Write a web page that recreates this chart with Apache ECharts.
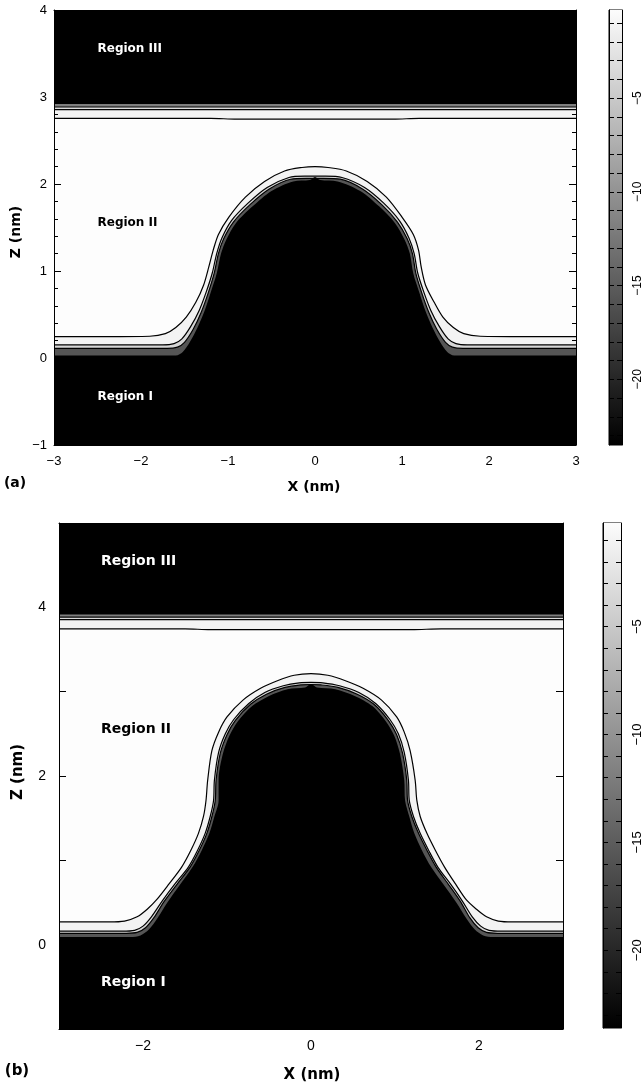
<!DOCTYPE html>
<html>
<head>
<meta charset="utf-8">
<script src="https://cdn.jsdelivr.net/npm/echarts@6/dist/echarts.min.js"></script>
<style>
html, body { margin: 0; padding: 0; background: #fff; }
#main { width: 644px; height: 1091px; }
</style>
</head>
<body>
<div id="main"></div>
<script>
// ---- panel (a): contours of the field, [x nm, z nm]
var outerA = [[-3,0.245],[-2.4,0.245],[-1.9,0.25],[-1.72,0.28],[-1.6,0.35],[-1.48,0.47],[-1.37,0.64],[-1.28,0.84],[-1.22,1.05],[-1.17,1.24],[-1.11,1.42],[-0.99,1.62],[-0.8,1.85],[-0.58,2.03],[-0.35,2.15],[-0.15,2.19],[0,2.2],[0.15,2.19],[0.36,2.15],[0.6,2.03],[0.82,1.85],[1.0,1.62],[1.13,1.42],[1.19,1.24],[1.22,1.05],[1.27,0.84],[1.37,0.64],[1.47,0.47],[1.59,0.35],[1.71,0.28],[1.9,0.25],[2.4,0.245],[3,0.245]];
var midA = [[-3,0.15],[-1.75,0.15],[-1.62,0.165],[-1.53,0.22],[-1.43,0.36],[-1.33,0.55],[-1.25,0.76],[-1.18,0.98],[-1.13,1.2],[-1.07,1.38],[-0.96,1.58],[-0.77,1.78],[-0.55,1.96],[-0.3,2.075],[-0.12,2.09],[0,2.09],[0.12,2.09],[0.31,2.075],[0.57,1.96],[0.79,1.78],[0.97,1.58],[1.08,1.38],[1.14,1.2],[1.18,0.98],[1.25,0.76],[1.33,0.55],[1.43,0.36],[1.53,0.22],[1.62,0.165],[1.75,0.15],[3,0.15]];
var innerA = [[-3,0.11],[-1.7,0.11],[-1.58,0.125],[-1.5,0.18],[-1.4,0.33],[-1.31,0.52],[-1.23,0.74],[-1.16,0.97],[-1.11,1.2],[-1.05,1.37],[-0.94,1.56],[-0.75,1.76],[-0.53,1.94],[-0.28,2.055],[-0.1,2.065],[0,2.065],[0.1,2.065],[0.29,2.055],[0.55,1.94],[0.77,1.76],[0.95,1.56],[1.06,1.37],[1.12,1.2],[1.16,0.97],[1.23,0.74],[1.31,0.52],[1.4,0.33],[1.5,0.18],[1.58,0.125],[1.7,0.11],[3,0.11]];
var edgeA = [[-3,0.03],[-1.6,0.03],[-1.52,0.07],[-1.44,0.18],[-1.35,0.35],[-1.27,0.54],[-1.2,0.75],[-1.13,0.97],[-1.08,1.2],[-1.02,1.36],[-0.91,1.55],[-0.72,1.74],[-0.5,1.92],[-0.25,2.03],[-0.06,2.045],[0,2.08],[0.06,2.045],[0.26,2.03],[0.52,1.92],[0.74,1.74],[0.92,1.55],[1.03,1.36],[1.09,1.2],[1.13,0.97],[1.2,0.75],[1.27,0.54],[1.35,0.35],[1.44,0.18],[1.52,0.07],[1.6,0.03],[3,0.03]];
var topOuterA = [[-3,2.755],[-1.2,2.755],[-0.9,2.745],[0.9,2.745],[1.2,2.755],[3,2.755]];
var topMidA = 2.855, topInnerA = 2.885, topEdgeA = 2.92;

// ---- panel (b)
var outerB = [[-3,0.27],[-2.4,0.27],[-2.22,0.28],[-2.07,0.33],[-1.95,0.42],[-1.84,0.53],[-1.69,0.72],[-1.54,0.92],[-1.43,1.12],[-1.34,1.32],[-1.28,1.52],[-1.25,1.71],[-1.23,1.95],[-1.18,2.3],[-1.1,2.52],[-1.0,2.7],[-0.81,2.9],[-0.6,3.04],[-0.4,3.13],[-0.2,3.195],[0,3.215],[0.2,3.195],[0.41,3.13],[0.62,3.04],[0.84,2.9],[1.02,2.7],[1.11,2.52],[1.18,2.3],[1.24,1.95],[1.26,1.71],[1.3,1.52],[1.38,1.32],[1.48,1.12],[1.59,0.92],[1.72,0.72],[1.85,0.53],[1.97,0.42],[2.09,0.33],[2.23,0.28],[2.4,0.27],[3,0.27]];
var midB = [[-3,0.16],[-2.25,0.16],[-2.1,0.17],[-2.0,0.22],[-1.9,0.33],[-1.77,0.52],[-1.62,0.72],[-1.46,0.92],[-1.35,1.12],[-1.26,1.32],[-1.2,1.52],[-1.16,1.71],[-1.15,1.95],[-1.1,2.28],[-1.02,2.5],[-0.92,2.67],[-0.74,2.86],[-0.55,2.99],[-0.33,3.07],[-0.14,3.105],[0,3.11],[0.14,3.105],[0.34,3.07],[0.57,2.99],[0.77,2.86],[0.94,2.67],[1.04,2.5],[1.11,2.28],[1.16,1.95],[1.17,1.71],[1.22,1.52],[1.3,1.32],[1.4,1.12],[1.51,0.92],[1.66,0.72],[1.8,0.52],[1.92,0.33],[2.02,0.22],[2.12,0.17],[2.27,0.16],[3,0.16]];
var innerB = [[-3,0.135],[-2.2,0.135],[-2.07,0.145],[-1.97,0.2],[-1.87,0.32],[-1.75,0.51],[-1.6,0.71],[-1.44,0.92],[-1.33,1.12],[-1.24,1.32],[-1.18,1.52],[-1.14,1.71],[-1.13,1.95],[-1.08,2.27],[-1.0,2.49],[-0.9,2.66],[-0.72,2.85],[-0.53,2.97],[-0.31,3.05],[-0.12,3.08],[0,3.085],[0.12,3.08],[0.32,3.05],[0.55,2.97],[0.75,2.85],[0.92,2.66],[1.02,2.49],[1.09,2.27],[1.14,1.95],[1.15,1.71],[1.2,1.52],[1.28,1.32],[1.38,1.12],[1.49,0.92],[1.64,0.71],[1.78,0.51],[1.89,0.32],[1.99,0.2],[2.09,0.145],[2.22,0.135],[3,0.135]];
var edgeB = [[-3,0.09],[-2.15,0.09],[-2.03,0.11],[-1.93,0.18],[-1.83,0.31],[-1.71,0.5],[-1.56,0.71],[-1.41,0.92],[-1.3,1.12],[-1.21,1.32],[-1.15,1.52],[-1.1,1.71],[-1.1,1.95],[-1.05,2.26],[-0.97,2.48],[-0.87,2.65],[-0.7,2.83],[-0.5,2.95],[-0.28,3.03],[-0.07,3.05],[0,3.09],[0.07,3.05],[0.29,3.03],[0.52,2.95],[0.73,2.83],[0.89,2.65],[0.99,2.48],[1.06,2.26],[1.11,1.95],[1.12,1.71],[1.17,1.52],[1.23,1.32],[1.32,1.12],[1.43,0.92],[1.58,0.71],[1.73,0.5],[1.85,0.31],[1.95,0.18],[2.05,0.11],[2.17,0.09],[3,0.09]];
var topOuterB = [[-3,3.745],[-1.5,3.745],[-1.2,3.735],[1.2,3.735],[1.55,3.745],[3,3.745]];
var topMidB = 3.855, topInnerB = 3.885, topEdgeB = 3.915;

// region labels
var regionNames = ['Region III', 'Region II', 'Region I'];
var regionColors = ['#fff', '#000', '#fff'];
var regionX = -2.5;
var regionZA = [3.55, 1.55, -0.45];
var regionZB = [4.55, 2.55, -0.45];

// colour bars
var cbRangeA = [-23.5, -0.3];
var cbRangeB = [-23.6, -0.2];
var cbTicks = [-23,-22,-21,-20,-19,-18,-17,-16,-15,-14,-13,-12,-11,-10,-9,-8,-7,-6,-5,-4,-3,-2,-1];
var cbLabels = [-20, -15, -10, -5];

var SMOOTH = 0.3;

function minus(v) { return v < 0 ? '\u2212' + Math.abs(v) : String(v); }
function flat(z) { return [[-3, z], [3, z]]; }

function fill(xi, yi, data, color, origin) {
    return {
        type: 'line', xAxisIndex: xi, yAxisIndex: yi, data: data, smooth: SMOOTH,
        showSymbol: false, silent: true, lineStyle: { width: 0 },
        areaStyle: { color: color, opacity: 1, origin: origin }
    };
}
function contour(xi, yi, data) {
    return {
        type: 'line', xAxisIndex: xi, yAxisIndex: yi, data: data, smooth: SMOOTH,
        showSymbol: false, silent: true, z: 3,
        lineStyle: { color: '#000', width: 1.2 }
    };
}
function regions(xi, yi, zs, size) {
    return {
        type: 'scatter', xAxisIndex: xi, yAxisIndex: yi, symbolSize: 0, z: 6, silent: true,
        itemStyle: { opacity: 1 },
        data: regionNames.map(function (n, i) {
            return { name: n, value: [regionX, zs[i]],
                label: { color: regionColors[i] } };
        }),
        label: {
            show: true, position: 'right', distance: 0, formatter: '{b}',
            fontFamily: 'DejaVu Sans', fontWeight: 'bold', fontSize: size
        }
    };
}
function panelSeries(xi, yi, outer, mid, inner, edge, tOuter, tMid, tInner, tEdge, zs, size) {
    return [
        fill(xi, yi, tOuter, '#f3f3f3', 'end'),
        fill(xi, yi, flat(tMid), '#dadada', 'end'),
        fill(xi, yi, flat(tInner), '#7e7e7e', 'end'),
        fill(xi, yi, flat(tEdge), '#000', 'end'),
        fill(xi, yi, outer, '#f3f3f3', 'start'),
        fill(xi, yi, mid, '#d6d6d6', 'start'),
        fill(xi, yi, inner, '#555', 'start'),
        fill(xi, yi, edge, '#000', 'start'),
        contour(xi, yi, tOuter),
        contour(xi, yi, flat(tMid)),
        contour(xi, yi, flat(tInner)),
        contour(xi, yi, outer),
        contour(xi, yi, mid),
        contour(xi, yi, inner),
        regions(xi, yi, zs, size)
    ];
}
function cbSeries(xi, yi, range) {
    return {
        type: 'line', xAxisIndex: xi, yAxisIndex: yi, silent: true,
        data: [[0, range[0]], [1, range[0]]], showSymbol: false, lineStyle: { width: 0 },
        areaStyle: {
            opacity: 1, origin: 'end',
            color: new echarts.graphic.LinearGradient(0, 0, 0, 1, [
                { offset: 0, color: '#fcfcfc' }, { offset: 1, color: '#000' }])
        }
    };
}

var line = { show: true, onZero: false, lineStyle: { color: '#000', width: 1 } };
function mainAxis(grid, pos, min, max, labels, minor, fs, margin, evenOnly) {
    return {
        type: 'value', gridIndex: grid, position: pos, min: min, max: max, interval: 1, z: 5,
        axisLine: line, splitLine: { show: false },
        axisTick: { show: true, inside: true, length: 7, lineStyle: { color: '#000' } },
        minorTick: { show: minor, splitNumber: 5, length: 4, lineStyle: { color: '#000' } },
        axisLabel: {
            show: labels, margin: margin, color: '#000', fontSize: fs, fontFamily: 'Liberation Sans',
            formatter: function (v) { return evenOnly && v % 2 !== 0 ? '' : minus(v); }
        }
    };
}
function cbAxis(grid, pos, range, labels, fs) {
    return {
        type: 'value', gridIndex: grid, position: pos, min: range[0], max: range[1], z: 5,
        axisLine: line, splitLine: { show: false },
        axisTick: { show: true, inside: true, length: 5, customValues: cbTicks, lineStyle: { color: '#000' } },
        axisLabel: {
            show: labels, customValues: cbLabels, rotate: 90, margin: 10, color: '#000',
            fontSize: fs, fontFamily: 'Liberation Sans', formatter: minus
        }
    };
}
var hidden = function (grid) { return { type: 'value', gridIndex: grid, min: 0, max: 1, show: false }; };

function txt(x, y, s, size, rot) {
    return {
        type: 'text', x: x, y: y, rotation: rot || 0, silent: true,
        style: { text: s, fill: '#000', font: 'bold ' + size + 'px "DejaVu Sans"', align: 'center', verticalAlign: 'middle' }
    };
}

var chart = echarts.init(document.getElementById('main'));
chart.setOption({
    animation: false,
    backgroundColor: '#fff',
    grid: [
        { left: 54, top: 10, width: 522, height: 435, show: true, backgroundColor: '#fdfdfd', borderWidth: 0 },
        { left: 609, top: 10, width: 17, height: 435, show: true, borderColor: '#000', borderWidth: 1 },
        { left: 59, top: 523, width: 504, height: 506, show: true, backgroundColor: '#fdfdfd', borderWidth: 0 },
        { left: 603, top: 523, width: 22, height: 505, show: true, borderColor: '#000', borderWidth: 1 }
    ],
    xAxis: [
        mainAxis(0, 'bottom', -3, 3, true, true, 13, 10, false),
        mainAxis(0, 'top', -3, 3, false, true, 13, 10, false),
        hidden(1),
        mainAxis(2, 'bottom', -3, 3, true, false, 14, 10, true),
        mainAxis(2, 'top', -3, 3, false, false, 14, 10, true),
        hidden(3)
    ],
    yAxis: [
        mainAxis(0, 'left', -1, 4, true, true, 13, 7, false),
        mainAxis(0, 'right', -1, 4, false, true, 13, 7, false),
        cbAxis(1, 'right', cbRangeA, true, 12),
        cbAxis(1, 'left', cbRangeA, false, 12),
        mainAxis(2, 'left', -1, 5, true, false, 14, 13, true),
        mainAxis(2, 'right', -1, 5, false, false, 14, 13, true),
        cbAxis(3, 'right', cbRangeB, true, 13),
        cbAxis(3, 'left', cbRangeB, false, 13)
    ],
    series: [].concat(
        panelSeries(0, 0, outerA, midA, innerA, edgeA, topOuterA, topMidA, topInnerA, topEdgeA, regionZA, 12),
        [cbSeries(2, 2, cbRangeA)],
        panelSeries(3, 4, outerB, midB, innerB, edgeB, topOuterB, topMidB, topInnerB, topEdgeB, regionZB, 14),
        [cbSeries(5, 6, cbRangeB)]
    ),
    graphic: [
        txt(15, 483, '(a)', 14),
        txt(314, 487, 'X (nm)', 14),
        txt(16, 232, 'Z (nm)', 14, Math.PI / 2),
        txt(17, 1071, '(b)', 15),
        txt(312, 1075, 'X (nm)', 15),
        txt(18, 772, 'Z (nm)', 15, Math.PI / 2)
    ]
});
</script>
</body>
</html>
